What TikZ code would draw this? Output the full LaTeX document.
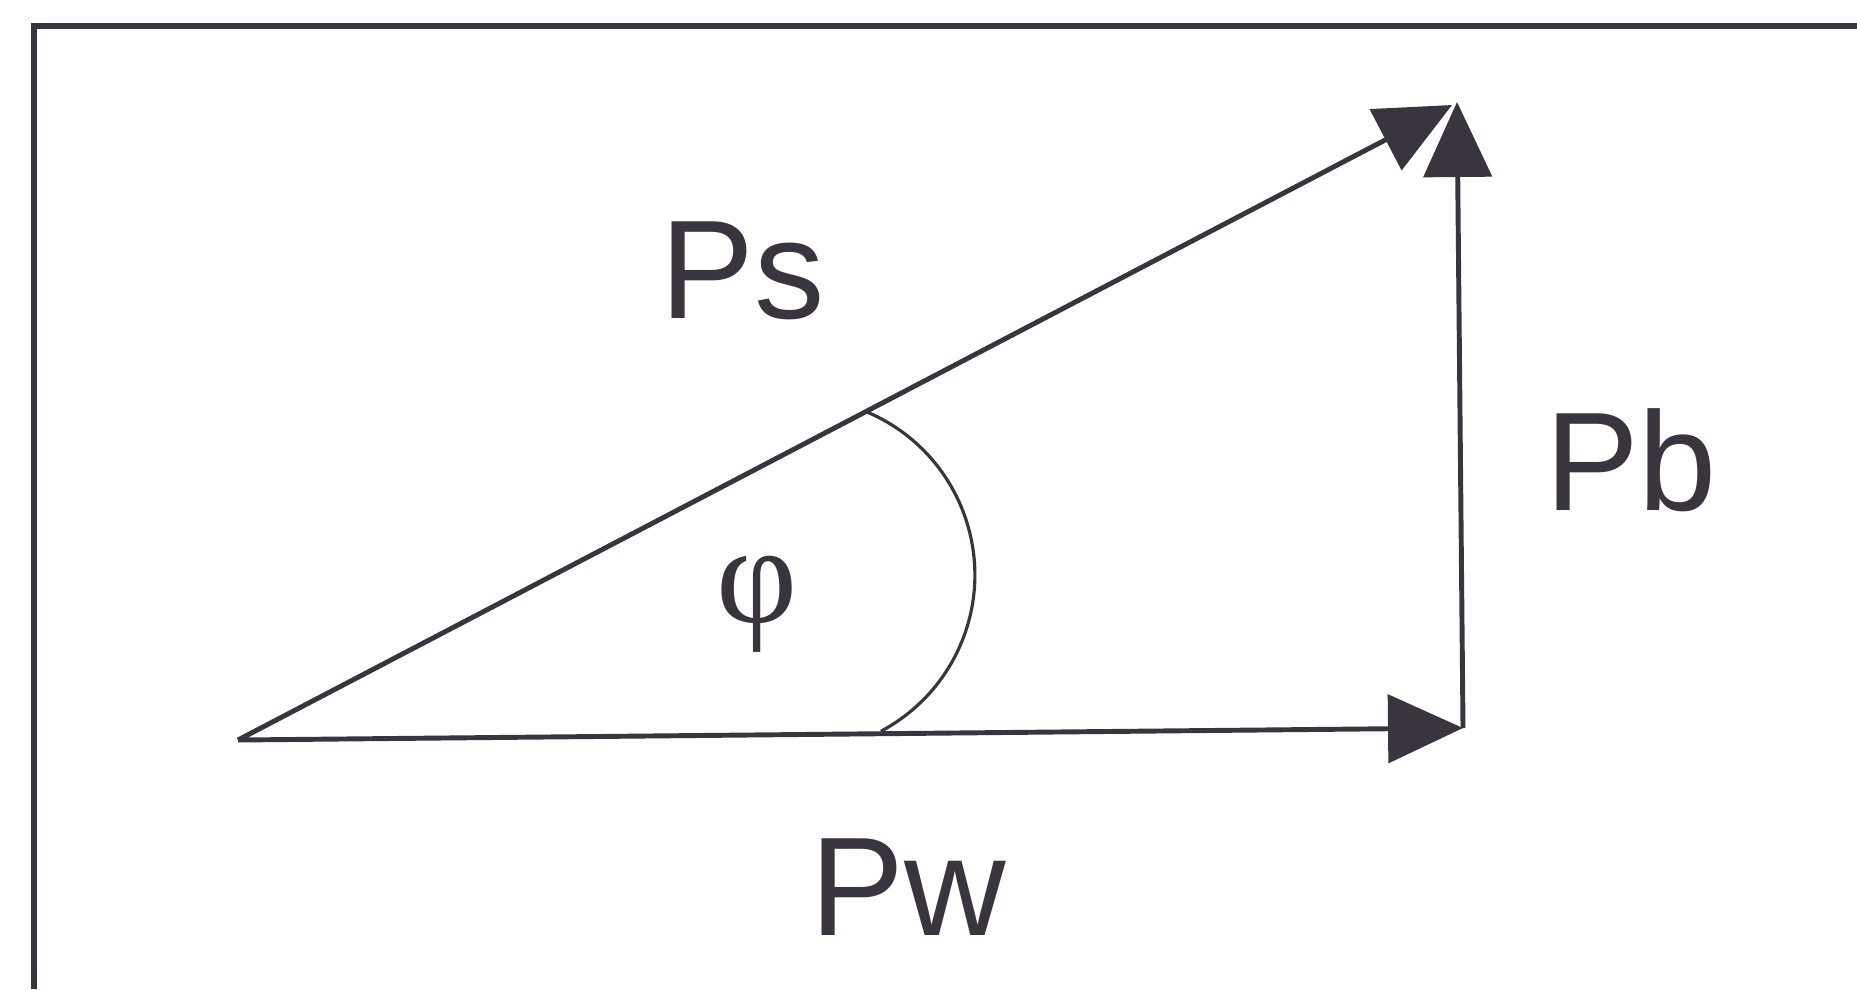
\documentclass[tikz,border=0pt]{standalone}
\usepackage{fontspec}
\setmainfont{Liberation Sans}
\newfontfamily\grkfont{Liberation Serif}
\usetikzlibrary{arrows.meta}
\definecolor{inkc}{RGB}{58,52,62}

\begin{document}
\begin{tikzpicture}[
    vec/.style={line width=1.4pt, draw=inkc, -{Triangle[length=7.5mm,width=6.8mm,fill=inkc]}},
    lbl/.style={text=inkc, font=\fontsize{40}{48}\selectfont, anchor=base}]
            % Khung
            \useasboundingbox (0,0) rectangle (18.57,-9.89);
            \draw[line width=1.9pt, inkc] (0.34,-9.89) -- (0.34,-0.26) -- (18.57,-0.26);
            % Các điểm
            \coordinate (O) at (2.38,-7.40);
            \coordinate (W) at (14.63,-7.28);
            \coordinate (S) at (14.57,-1.02);
            \coordinate (T) at (14.52,-1.05);
            \coordinate (A) at (8.67,-4.12);
            % Các vectơ công suất
            \draw[vec] (O) -- (W);
            \draw[vec] (W) -- (S);
            \draw[vec] (O) -- (T);
            % Góc
            \draw[inkc, line width=0.9pt] (A) arc[start angle=67, end angle=-62, radius=1.77];
            % Nhãn
            \node[lbl] (ps) at (7.43,-3.18) {Ps};
            \node[lbl] (pb) at (16.31,-5.10) {Pb};
            \node[lbl] (pw) at (9.08,-9.35) {Pw};
            \node[text=inkc, font=\grkfont\fontsize{40}{48}\selectfont] (phi) at (7.57,-6.04) {φ};
        \end{tikzpicture}
\end{document}
